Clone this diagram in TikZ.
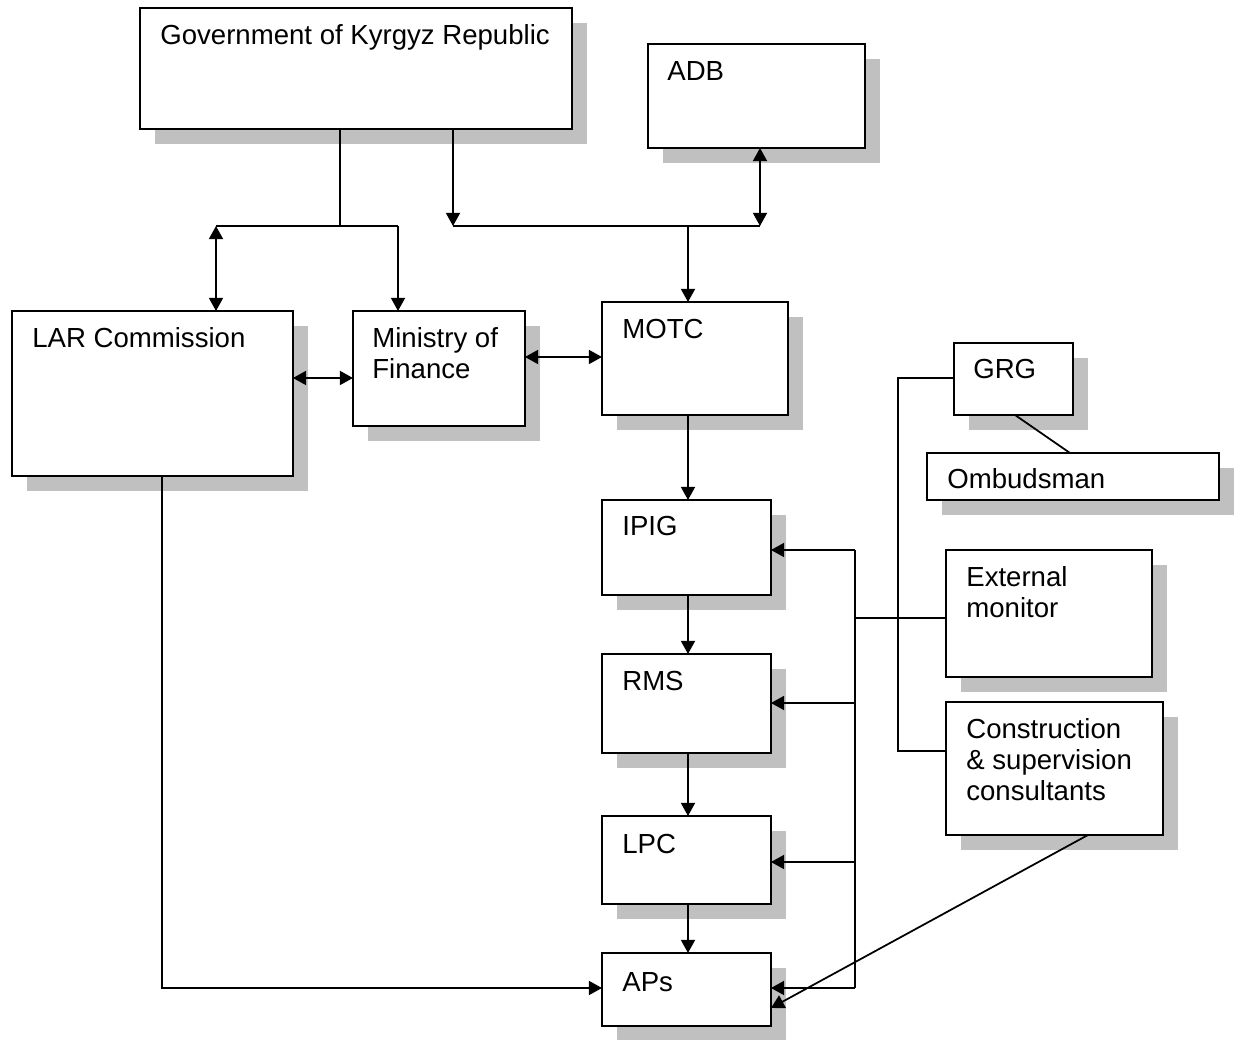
\documentclass[tikz,border=0pt]{standalone}
\usepackage{fontspec}
\setmainfont{Liberation Sans}
\usetikzlibrary{arrows.meta,shadows}
\definecolor{shadowgray}{HTML}{C0C0C0}
\newcommand\mylines[1]{\begin{tabular}[t]{@{}l@{}}#1\end{tabular}}
\begin{document}
\begin{tikzpicture}[x=0.02cm,y=-0.02cm,
  box/.style={draw, line width=1.2pt, fill=white, inner sep=0pt, outer sep=0pt, anchor=north west,
    drop shadow={shadow xshift=0.3cm, shadow yshift=-0.3cm, fill=shadowgray, opacity=1}},
  txt/.style={anchor=base west, inner sep=0pt, font=\fontsize{15.7}{17.6}\selectfont},
  conn/.style={line width=1pt},
  arr/.style={conn, -{Triangle[length=7.5pt,width=8pt]}},
  arrb/.style={conn, {Triangle[length=7.5pt,width=8pt]}-{Triangle[length=7.5pt,width=8pt]}}]
\useasboundingbox (0,0) rectangle (1242,1040);

% boxes
\node[box, minimum width=8.64cm, minimum height=2.42cm] (gov) at (140,8) {};
\node[box, minimum width=4.34cm, minimum height=2.08cm] (adb) at (648,44) {};
\node[box, minimum width=5.62cm, minimum height=3.30cm] (lar) at (12,311) {};
\node[box, minimum width=3.44cm, minimum height=2.30cm] (mof) at (353,311) {};
\node[box, minimum width=3.72cm, minimum height=2.26cm] (motc) at (602,302) {};
\node[box, minimum width=2.38cm, minimum height=1.44cm] (grg) at (954,343) {};
\node[box, minimum width=5.84cm, minimum height=0.94cm] (omb) at (927,453) {};
\node[box, minimum width=3.38cm, minimum height=1.90cm] (ipig) at (602,500) {};
\node[box, minimum width=4.12cm, minimum height=2.54cm] (ext) at (946,550) {};
\node[box, minimum width=3.38cm, minimum height=1.98cm] (rms) at (602,654) {};
\node[box, minimum width=4.34cm, minimum height=2.66cm] (cons) at (946,702) {};
\node[box, minimum width=3.38cm, minimum height=1.76cm] (lpc) at (602,816) {};
\node[box, minimum width=3.38cm, minimum height=1.46cm] (aps) at (602,953) {};

% texts
\node[txt] (govt) at (160,45) {Government of Kyrgyz Republic};
\node[txt] (adbt) at (667,81) {ADB};
\node[txt] (lart) at (32,348) {LAR Commission};
\node[txt] (moft) at (372,348) {\mylines{Ministry of\\Finance}};
\node[txt] (motct) at (622,339) {MOTC};
\node[txt] (grgt) at (973,379) {GRG};
\node[txt] (ombt) at (947,489) {Ombudsman};
\node[txt] (ipigt) at (622,536) {IPIG};
\node[txt] (extt) at (966,587) {\mylines{External\\monitor}};
\node[txt] (rmst) at (622,691) {RMS};
\node[txt] (const) at (966,739) {\mylines{Construction\\\& supervision\\consultants}};
\node[txt] (lpct) at (622,853) {LPC};
\node[txt] (apst) at (622,991) {APs};

% junctions
\coordinate (jG) at (340,226);
\coordinate (jL) at (216,226);
\coordinate (jM) at (398,226);
\coordinate (jA) at (453,226);
\coordinate (jB) at (760,226);
\coordinate (jC) at (688,226);
\coordinate (bT) at (855,550);
\coordinate (bB) at (855,988);

% top connectors
\draw[conn] (gov.south -| jG) -- (jG);
\draw[conn] (jL) -- (jM);
\draw[arrb] (jL) -- (lar.north -| jL);
\draw[arr] (jM) -- (mof.north -| jM);
\draw[arr] (gov.south -| jA) -- (jA);
\draw[conn] (jA) -- (jB);
\draw[arrb] (jB) -- (adb.south -| jB);
\draw[arr] (jC) -- (motc.north -| jC);

% middle row
\draw[arrb] (lar.east |- 0,378) -- (mof.west |- 0,378);
\draw[arrb] (mof.east |- 0,357) -- (motc.west |- 0,357);

% vertical chain
\draw[arr] (motc.south -| 688,0) -- (ipig.north -| 688,0);
\draw[arr] (ipig.south -| 688,0) -- (rms.north -| 688,0);
\draw[arr] (rms.south -| 688,0) -- (lpc.north -| 688,0);
\draw[arr] (lpc.south -| 688,0) -- (aps.north -| 688,0);

% LAR to APs
\draw[arr] (lar.south -| 162,0) |- (aps.west |- bB);

% bus
\draw[conn] (bT) -- (bB);
\draw[arr] (bT) -- (ipig.east |- bT);
\draw[arr] (855,703) -- (rms.east |- 0,703);
\draw[arr] (855,862) -- (lpc.east |- 0,862);
\draw[arr] (bB) -- (aps.east |- bB);
\draw[conn] (ext.west |- 0,618) -- (855,618);

% GRG
\draw[conn] (grg.west |- 0,378) -| (898,751) -- (cons.west |- 0,751);
\draw[conn] (grg.south -| 1015,0) -- (omb.north -| 1070,0);

% Construction to APs
\draw[arr] (cons.south -| 1088,0) -- (aps.east |- 0,1008);
\end{tikzpicture}
\end{document}
